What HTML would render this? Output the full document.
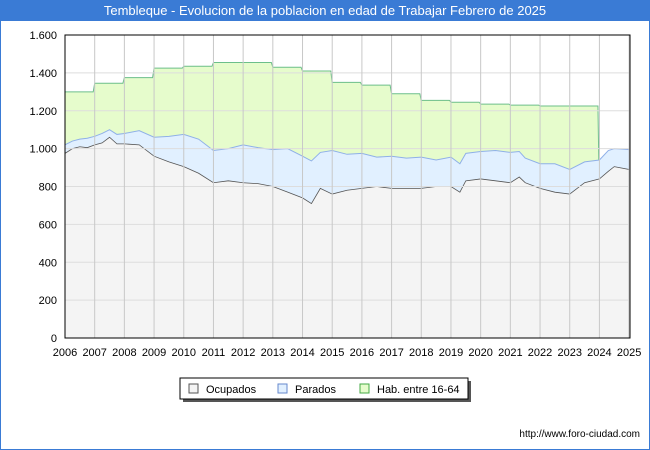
<!DOCTYPE html>
<html><head><meta charset="utf-8"><style>
body{margin:0;width:650px;height:450px;overflow:hidden;background:#fff;font-family:"Liberation Sans","DejaVu Sans",sans-serif}
#frame{position:absolute;left:0;top:0;width:648px;height:448px;border:1px solid #3a7bd5;}
#title{position:absolute;left:0;top:0;width:650px;height:21px;background:#3a7bd5;color:#fff;font-size:13px;text-align:center;line-height:21px}
</style></head><body>
<div id="frame"></div>
<div id="title">Tembleque - Evolucion de la poblacion en edad de Trabajar Febrero de 2025</div>
<svg id="c" width="650" height="450" style="position:absolute;left:0;top:0"></svg>
<script>
const habYears=[2006,2007,2008,2009,2010,2011,2012,2013,2014,2015,2016,2017,2018,2019,2020,2021,2022,2023];
const habValues=[1300,1345,1375,1425,1435,1455,1455,1430,1410,1350,1335,1290,1255,1245,1235,1230,1225,1225];
const times=[2006,2006.25,2006.5,2006.75,2007,2007.25,2007.5,2007.75,2008,2008.5,2009,2009.5,2010,2010.5,2011,2011.5,2012,2012.5,2013,2013.5,2014,2014.3,2014.6,2015,2015.5,2016,2016.5,2017,2017.5,2018,2018.5,2019,2019.3,2019.5,2020,2020.5,2021,2021.3,2021.5,2022,2022.5,2023,2023.5,2024,2024.3,2024.5,2025];
const ocupados=[975,1000,1010,1005,1020,1030,1060,1025,1025,1020,960,930,905,870,820,830,820,815,800,770,740,710,790,760,780,790,800,790,790,790,800,800,770,830,840,830,820,850,820,790,770,760,820,840,880,905,890];
const paradosTop=[1020,1040,1050,1055,1065,1080,1100,1075,1080,1095,1060,1065,1075,1050,990,1000,1020,1005,995,1000,960,935,980,990,970,975,955,960,950,955,940,955,920,975,985,990,980,985,950,920,920,890,930,940,990,1000,995];
const yTicks=[0,200,400,600,800,1000,1200,1400,1600];
const yLabels=["0","200","400","600","800","1.000","1.200","1.400","1.600"];
const xYears=[2006,2007,2008,2009,2010,2011,2012,2013,2014,2015,2016,2017,2018,2019,2020,2021,2022,2023,2024,2025];
const L=65,R=630,T=35,B=338;
const X=t=>L+(t-2006)*(R-L)/19.03;
const Y=v=>B-v*(B-T)/1600;
const svg=document.getElementById('c');
const NS='http://www.w3.org/2000/svg';
function mk(tag,at){const e=document.createElementNS(NS,tag);for(const k in at)e.setAttribute(k,at[k]);svg.appendChild(e);return e;}
let bg=mk('rect',{x:L,y:T,width:R-L,height:B-T,fill:'#fff'});


// hab path (stepped)
let hp=`M${X(2006)},${Y(0)}`;
habYears.forEach((yr,i)=>{hp+=` L${X(yr)},${Y(habValues[i])} L${X(yr+0.95)},${Y(habValues[i])}`;});
hp+=` L${X(2023.98)},${Y(ocupados[42]+100)} L${X(2023.98)},${Y(0)} Z`;
let hab=mk('path',{d:hp,fill:'#e6fccc',stroke:'#6cbf8a','stroke-width':1});


const line=(arr)=>times.map((t,i)=>`${X(t)},${Y(arr[i])}`).join(' L');
let pa=mk('path',{d:`M${X(2006)},${Y(0)} L${line(paradosTop)} L${X(2025)},${Y(0)} Z`,fill:'#e1f0ff',stroke:'#8fb0e8','stroke-width':1});


let oc=mk('path',{d:`M${X(2006)},${Y(0)} L${line(ocupados)} L${X(2025)},${Y(0)} Z`,fill:'#f4f4f4',stroke:'#555','stroke-width':0.8});


yTicks.forEach((v,i)=>{
 let g=mk('line',{x1:L,x2:R,y1:Y(v),y2:Y(v),stroke:'#ddd','stroke-width':1});
 
 
 let t=mk('text',{x:L-8,y:Y(v)+4,'text-anchor':'end','font-size':11,fill:'#000'});t.textContent=yLabels[i];
 
 
});
xYears.forEach(yr=>{
 let g=mk('line',{x1:X(yr),x2:X(yr),y1:T,y2:B,stroke:'#c8c8c8','stroke-width':1});
 
 
 let t=mk('text',{x:X(yr),y:356,'text-anchor':'middle','font-size':11,fill:'#000'});t.textContent=yr;
 
 
});
let fr=mk('rect',{x:L,y:T,width:R-L,height:B-T,fill:'none',stroke:'#000','stroke-width':1});


// legend
let sh=mk('rect',{x:183,y:381,width:288,height:21,fill:'#555'});


let lg=mk('rect',{x:180,y:378,width:288,height:21,fill:'#fff',stroke:'#000','stroke-width':1});


[[189,'#f4f4f4','#555','Ocupados'],[278,'#e1f0ff','#6688cc','Parados'],[360,'#e6fccc','#44aa44','Hab. entre 16-64']].forEach(([x,f,s,n])=>{
 let b=mk('rect',{x:x,y:384,width:9,height:9,fill:f,stroke:s});
 
 
 let t=mk('text',{x:x+17,y:393,'font-size':11,fill:'#000'});t.textContent=n;
 
 
});
let u=mk('text',{x:640,y:437,'text-anchor':'end','font-size':10,fill:'#000'});u.textContent='http://www.foro-ciudad.com';


</script>
</body></html>
